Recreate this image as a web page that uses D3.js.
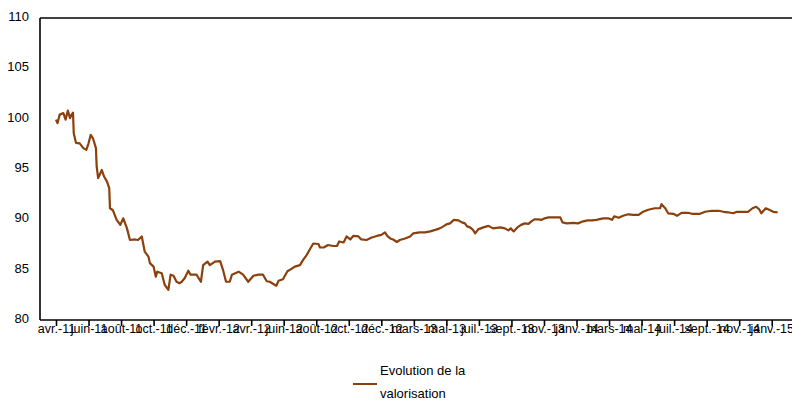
<!DOCTYPE html>
<html>
<head>
<meta charset="utf-8">
<script src="https://cdn.jsdelivr.net/npm/d3@7"></script>
<style>
  body { margin: 0; background: #fff; }
  text { font-family: "Liberation Sans", Arial, sans-serif; fill: #000; }
</style>
</head>
<body>
<div id="chart"></div>
<script>
// tick labels of the category axis (one tick every 44 points)
var tickLabels = ["avr.-11", "juin-11", "août-11", "oct.-11", "déc.-11", "févr.-12", "avr.-12",
  "juin-12", "août-12", "oct.-12", "déc.-12", "mars-13", "mai-13", "juil.-13", "sept.-13",
  "nov.-13", "janv.-14", "mars-14", "mai-14", "juil.-14", "sept.-14", "nov.-14", "janv.-15"]
var tickStep = 44
var yTicks = [80, 85, 90, 95, 100, 105, 110]

// point index and value
var idx = [0, 2, 5, 10, 13, 16, 19, 21, 23, 24, 27, 32, 37, 41, 44, 47, 50, 54, 55, 57,
  62, 65, 69, 72, 73, 77, 82, 87, 91, 96, 100, 107, 111, 116, 120, 125, 127, 132, 135, 137,
  143, 147, 152, 155, 159, 163, 167, 170, 174, 179, 182, 190, 196, 199, 205, 208, 215, 222, 226, 230,
  235, 238, 247, 253, 260, 267, 274, 280, 285, 289, 298, 301, 307, 313, 319, 323, 330, 334, 339, 344,
  348, 355, 357, 362, 368, 375, 380, 383, 389, 393, 398, 402, 409, 413, 420, 427, 434, 440, 445, 448,
  452, 456, 461, 465, 472, 479, 483, 492, 499, 506, 513, 519, 524, 528, 533, 538, 544, 549, 553, 556,
  560, 564, 567, 571, 578, 585, 591, 601, 607, 612, 615, 619, 624, 629, 634, 639, 643, 647, 652, 657,
  661, 666, 682, 685, 691, 700, 706, 713, 719, 725, 731, 740, 747, 752, 755, 761, 767, 774, 781, 788,
  794, 801, 810, 817, 819, 824, 828, 835, 840, 846, 855, 860, 871, 878, 887, 896, 903, 909, 916, 921,
  930, 936, 942, 947, 951, 954, 960, 966, 970, 976]
var valo = [99.9, 99.55, 100.4, 100.55, 99.9, 100.8, 100.05, 100.4, 100.6, 98.55, 97.6, 97.55, 97.07, 96.9, 97.55, 98.4, 98.05, 97.07, 95.25, 94.1,
  94.9, 94.25, 93.75, 93.1, 91.1, 90.9, 89.95, 89.45, 90.1, 89.1, 87.95, 88.0, 87.95, 88.3, 86.8, 86.3, 85.65, 85.3, 84.3, 84.8,
  84.65, 83.5, 83.0, 84.5, 84.4, 83.8, 83.65, 83.8, 84.15, 84.9, 84.5, 84.5, 83.8, 85.45, 85.8, 85.45, 85.8, 85.85, 84.95, 83.8,
  83.8, 84.5, 84.8, 84.5, 83.8, 84.4, 84.5, 84.5, 83.85, 83.8, 83.4, 83.9, 84.05, 84.85, 85.1, 85.3, 85.45, 85.95, 86.45, 87.1,
  87.6, 87.55, 87.2, 87.2, 87.45, 87.35, 87.35, 87.8, 87.7, 88.3, 88.0, 88.35, 88.3, 88.0, 87.95, 88.2, 88.35, 88.45, 88.7, 88.35,
  88.1, 88.0, 87.75, 87.95, 88.1, 88.3, 88.6, 88.7, 88.7, 88.8, 88.95, 89.1, 89.3, 89.5, 89.6, 89.95, 89.9, 89.7, 89.6, 89.3,
  89.2, 88.95, 88.6, 89.0, 89.2, 89.35, 89.1, 89.2, 89.1, 88.9, 89.1, 88.8, 89.2, 89.45, 89.6, 89.55, 89.8, 90.0, 90.0, 89.95,
  90.1, 90.2, 90.2, 89.7, 89.6, 89.65, 89.6, 89.8, 89.9, 89.9, 89.95, 90.1, 90.1, 89.95, 90.3, 90.15, 90.35, 90.5, 90.45, 90.45,
  90.75, 90.95, 91.1, 91.1, 91.5, 91.1, 90.6, 90.55, 90.35, 90.65, 90.65, 90.55, 90.55, 90.75, 90.85, 90.85, 90.75, 90.7, 90.6, 90.75,
  90.75, 90.75, 91.1, 91.25, 91.0, 90.6, 91.1, 90.9, 90.75, 90.7]

var W = 792, H = 400
var margin = { top: 18, left: 40, bottom: 80 }
var plotBottom = H - margin.bottom

var svg = d3.select("#chart")
  .append("svg")
  .attr("width", W)
  .attr("height", H)

var x = d3.scaleLinear()
  .domain([0, tickStep * (tickLabels.length - 1)])
  .range([56, 771.7])

var y = d3.scaleLinear()
  .domain([80, 110])
  .range([plotBottom, margin.top])

// y labels, no tick marks
var yAxis = svg.append("g")
  .attr("transform", "translate(" + margin.left + ",0)")
  .call(d3.axisLeft(y).tickValues(yTicks).tickSize(0).tickPadding(11))
yAxis.select(".domain").remove()
yAxis.selectAll("text")
  .attr("dy", "0.2em")
  .style("font-size", "13px")
  .style("font-family", "'Liberation Sans', Arial, sans-serif")

// x axis
var xAxis = svg.append("g")
  .attr("transform", "translate(0," + plotBottom + ")")
  .call(d3.axisBottom(x)
    .tickValues(d3.range(tickLabels.length).map(function(i) { return i * tickStep }))
    .tickFormat(function(d, i) { return tickLabels[i] })
    .tickSize(6)
    .tickPadding(-2))
xAxis.select(".domain").remove()
xAxis.selectAll("line")
  .attr("stroke", "#000")
  .attr("stroke-width", 1.6)
xAxis.selectAll("text")
  .style("font-size", "12.5px")
  .style("font-family", "'Liberation Sans', Arial, sans-serif")

// frame: top, left, bottom
var frame = [
  [margin.left, margin.top, W, margin.top],
  [margin.left, margin.top, margin.left, plotBottom],
  [margin.left, plotBottom, W, plotBottom]
]
svg.selectAll(".frame")
  .data(frame)
  .enter()
  .append("line")
  .attr("x1", function(d) { return d[0] })
  .attr("y1", function(d) { return d[1] })
  .attr("x2", function(d) { return d[2] })
  .attr("y2", function(d) { return d[3] })
  .attr("stroke", "#000")
  .attr("stroke-width", 1.6)

var line = d3.line()
  .x(function(d, i) { return x(idx[i]) })
  .y(function(d) { return y(d) })

svg.append("path")
  .datum(valo)
  .attr("d", line)
  .attr("fill", "none")
  .attr("stroke", "#8c400c")
  .attr("stroke-width", 2.2)
  .attr("stroke-linejoin", "round")

// legend
svg.append("line")
  .attr("x1", 353)
  .attr("x2", 377)
  .attr("y1", 384)
  .attr("y2", 384)
  .attr("stroke", "#8c400c")
  .attr("stroke-width", 2)

svg.append("text")
  .attr("x", 380)
  .attr("y", 374.5)
  .style("font-size", "13px")
  .text("Evolution de la")

svg.append("text")
  .attr("x", 380)
  .attr("y", 398.3)
  .style("font-size", "13px")
  .text("valorisation")
</script>
</body>
</html>
